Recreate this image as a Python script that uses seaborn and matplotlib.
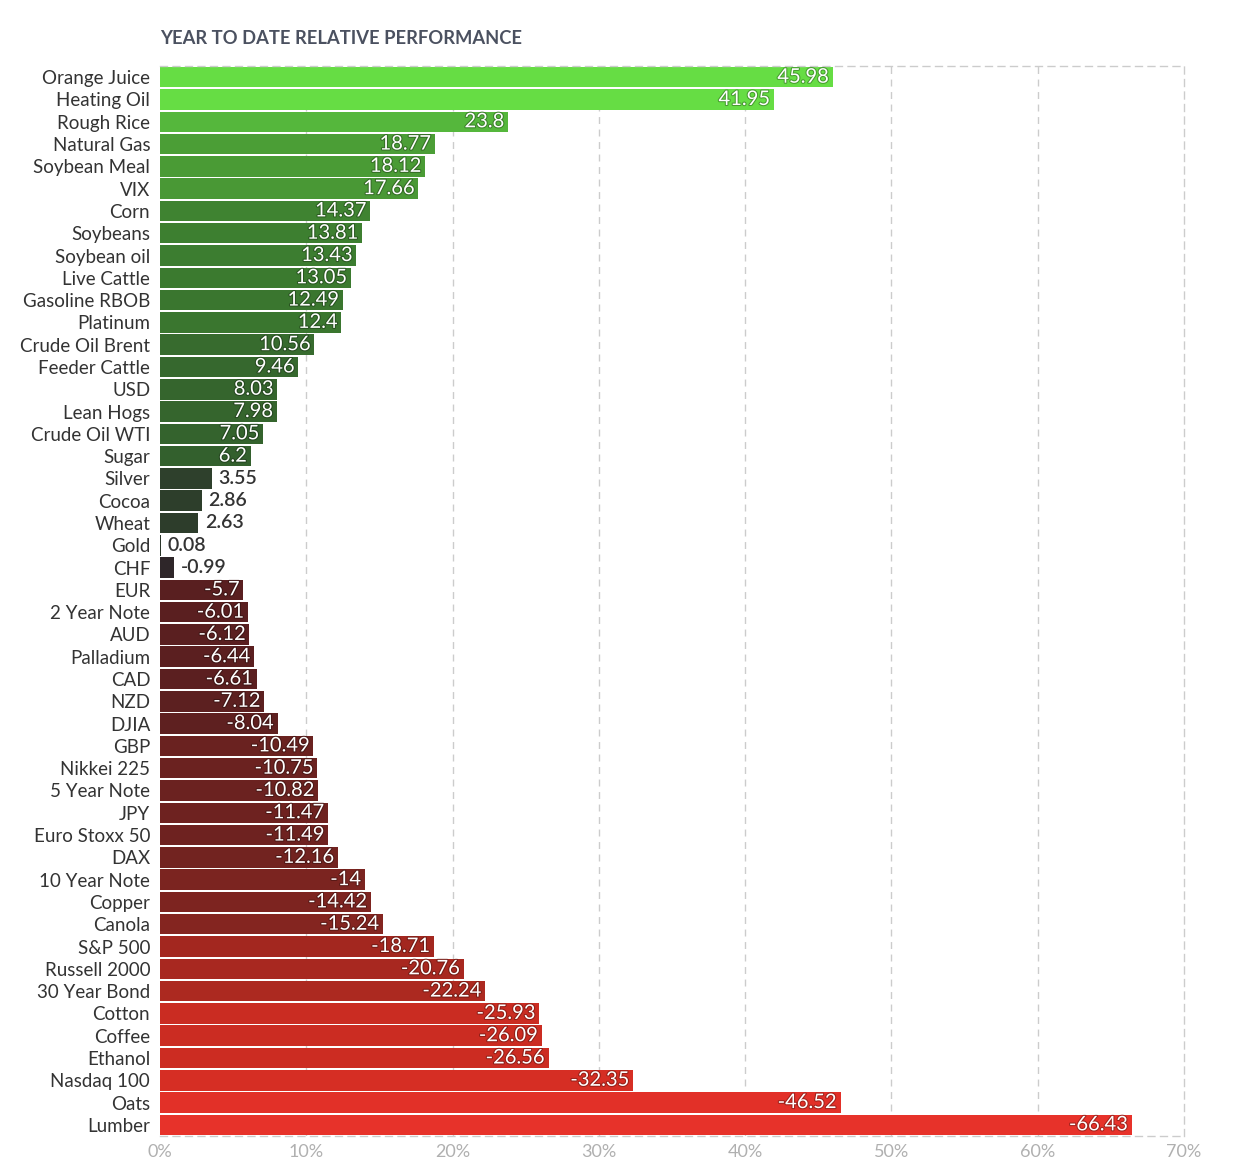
import numpy as np
import pandas as pd
import matplotlib
matplotlib.use('Agg')
import matplotlib.pyplot as plt
import matplotlib.patheffects as pe
from matplotlib.colors import to_rgb
import seaborn as sns

names = ['Orange Juice', 'Heating Oil', 'Rough Rice', 'Natural Gas', 'Soybean Meal', 'VIX',
         'Corn', 'Soybeans', 'Soybean oil', 'Live Cattle', 'Gasoline RBOB', 'Platinum',
         'Crude Oil Brent', 'Feeder Cattle', 'USD', 'Lean Hogs', 'Crude Oil WTI', 'Sugar',
         'Silver', 'Cocoa', 'Wheat', 'Gold', 'CHF', 'EUR', '2 Year Note', 'AUD', 'Palladium',
         'CAD', 'NZD', 'DJIA', 'GBP', 'Nikkei 225', '5 Year Note', 'JPY', 'Euro Stoxx 50',
         'DAX', '10 Year Note', 'Copper', 'Canola', 'S&P 500', 'Russell 2000', '30 Year Bond',
         'Cotton', 'Coffee', 'Ethanol', 'Nasdaq 100', 'Oats', 'Lumber']
values = [45.98, 41.95, 23.8, 18.77, 18.12, 17.66, 14.37, 13.81, 13.43, 13.05, 12.49, 12.4,
          10.56, 9.46, 8.03, 7.98, 7.05, 6.2, 3.55, 2.86, 2.63, 0.08, -0.99, -5.7, -6.01,
          -6.12, -6.44, -6.61, -7.12, -8.04, -10.49, -10.75, -10.82, -11.47, -11.49, -12.16,
          -14, -14.42, -15.24, -18.71, -20.76, -22.24, -25.93, -26.09, -26.56, -32.35,
          -46.52, -66.43]

ticks = list(range(0, 80, 10))
tick_labels = [f'{t}%' for t in ticks]

# colour ramps (magnitude -> colour), like the stepped scale in the source
pos_stops = [(0, '#2b362a'), (4, '#2e412c'), (6, '#33602d'), (11, '#376c2e'),
             (13, '#3b7a2f'), (18, '#4a9a35'), (24, '#55b83c'), (42, '#66dd44'), (70, '#66dd44')]
neg_stops = [(0, '#2e2629'), (1, '#2e2629'), (5.7, '#591f20'), (8, '#5e2020'),
             (11, '#6c2220'), (14.5, '#7d2420'), (18.7, '#a3271f'), (22.5, '#ad2920'),
             (26, '#cb2c22'), (32, '#d62e24'), (46, '#e23028'), (70, '#e8322a')]


def ramp(v, stops):
    xs = [s[0] for s in stops]
    cs = np.array([to_rgb(s[1]) for s in stops])
    return tuple(np.interp(v, xs, cs[:, i]) for i in range(3))


colors = [ramp(v, pos_stops) if v >= 0 else ramp(-v, neg_stops) for v in values]

df = pd.DataFrame({'name': names, 'value': values})
df['size'] = df['value'].abs()

sns.set_style('white')
plt.rcParams['font.family'] = ['Lato', 'DejaVu Sans']

fig = plt.figure(figsize=(12.37, 11.71), dpi=100)
ax = fig.add_axes([0.1293, 0.0299, 0.8279, 0.9137])

sns.barplot(data=df, x='size', y='name', hue='name', palette=colors, legend=False,
            width=0.92, saturation=1, edgecolor='none', orient='h', ax=ax)

ax.set_xlim(0, 70)
ax.set_ylim(len(names) - 0.5, -0.5)
ax.set_xticks(ticks)
ax.set_xticklabels(tick_labels, fontsize=13, color='#b0b0b0')
ax.tick_params(axis='y', labelsize=13.5, colors='#333333', length=0, pad=7)
ax.tick_params(axis='x', length=0, pad=6)
ax.set_xlabel('')
ax.set_ylabel('')

for t in ticks[1:-1]:
    ax.axvline(t, color='#cccccc', linestyle=(0, (5, 4)), linewidth=1, zorder=0)
for side in ['top', 'right', 'bottom']:
    ax.spines[side].set_visible(True)
    ax.spines[side].set_color('#cccccc')
    ax.spines[side].set_linestyle((0, (5, 4)))
    ax.spines[side].set_linewidth(1)
ax.spines['left'].set_visible(False)

for i, (v, c) in enumerate(zip(values, colors)):
    s = abs(v)
    label = f'{v:g}'
    if s >= 5:
        dark = tuple(x * 0.7 for x in c)
        ax.text(s - 0.25, i, label, ha='right', va='center', fontsize=14.5, color='white',
                path_effects=[pe.withStroke(linewidth=1.5, foreground=dark)])
    else:
        ax.text(s + 0.45, i, label, ha='left', va='center', fontsize=14,
                color='#333333', fontweight='semibold')

fig.text(160 / 1237, 1 - 38 / 1171, 'YEAR TO DATE RELATIVE PERFORMANCE', fontsize=13.2,
         fontweight='bold', color='#4b5160', ha='left', va='center')

fig.savefig('out.png', dpi=100)
